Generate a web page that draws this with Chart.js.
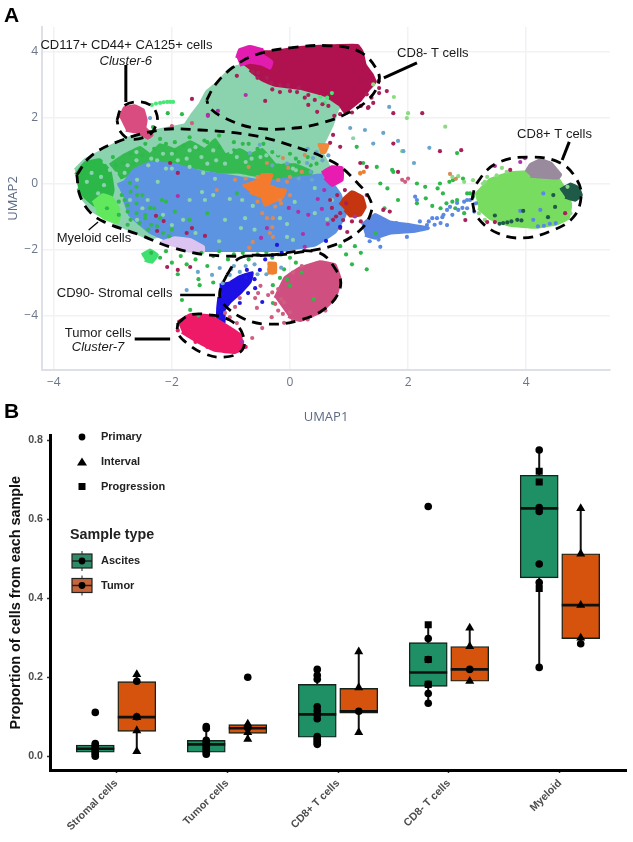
<!DOCTYPE html>
<html><head><meta charset="utf-8">
<style>
html,body{margin:0;padding:0;background:#fff;width:633px;height:842px;overflow:hidden}
canvas{position:absolute;left:0;filter:blur(.4px)}
#a{top:0}#b{top:425px}
.letter{position:absolute;font:bold 21px "Liberation Sans",Arial,sans-serif;color:#000;line-height:21px}
</style>
<script src="https://cdn.jsdelivr.net/npm/chart.js@4/dist/chart.umd.min.js"></script>
</head><body>
<canvas id="a" width="633" height="425"></canvas>
<canvas id="b" width="633" height="417"></canvas>
<div class="letter" style="left:4px;top:4px">A</div>
<div class="letter" style="left:4px;top:400px">B</div>
<script>
/* ---------- Panel A: UMAP clusters (dense areas as outlines, sparse cells as points) ---------- */
const mintArea=[[-3.64,.41],[-3.47,.71],[-3.31,.86],[-3.05,1.11],[-2.8,1.32],[-2.46,1.53],[-2.2,1.62],[-2.03,1.68],[-1.78,1.77],[-1.66,2.08],[-1.53,2.38],[-1.41,2.77],[-1.27,2.98],[-1.1,3.29],[-.98,3.5],[-.51,3.68],[.34,3.44],[.93,2.68],[.8,2.23],[.71,1.77],[.59,1.32],[.51,1.02],[.68,.41],[.17,-.2],[-2.37,-1.65],[-2.88,-1.26],[-3.31,-.86],[-3.56,-.35]];
const greenLeftArea=[[-3.63,.26],[-3.47,.62],[-3.22,.71],[-3.05,.35],[-3,-.2],[-3.08,-.65],[-3.31,-.65],[-3.47,-.41],[-3.59,-.14]];
const greenBandArea=[[-3.05,.56],[-2.8,.86],[-2.54,1.08],[-2.37,.86],[-2.2,1.17],[-1.95,1.02],[-1.69,1.26],[-1.44,1.02],[-1.27,1.32],[-1.1,.86],[-.85,1.02],[-.68,.86],[-.47,1.02],[-.25,.56],[.08,.56],[.37,.35],[.25,.11],[-.08,.11],[-.34,.17],[-.85,.35],[-1.19,.35],[-1.53,.47],[-1.86,.56],[-2.2,.41],[-2.54,.41],[-2.88,.17]];
const blueArea=[[-2.92,-.05],[-2.8,.05],[-2.63,.41],[-2.37,.62],[-1.95,.56],[-1.53,.35],[-.85,.17],[-.42,.05],[.17,.17],[.59,.26],[.85,-.35],[.93,-.95],[.76,-1.47],[.42,-1.86],[-.17,-2.02],[-.85,-2.02],[-1.44,-2.02],[-1.95,-1.8],[-2.37,-1.47],[-2.71,-.95],[-2.8,-.5]];
const limeArea=[[-3.34,-.59],[-3.17,-.35],[-3.02,-.44],[-2.88,-.86],[-2.92,-1.17],[-3.14,-1.05],[-3.27,-.86]];
const limeLowArea=[[-2.51,-2.17],[-2.37,-2.02],[-2.25,-2.17],[-2.34,-2.38],[-2.46,-2.32]];
const lavenderArea=[[-2.2,-1.8],[-1.95,-1.65],[-1.69,-1.71],[-1.47,-1.92],[-1.47,-2.08],[-1.78,-2.02]];
const orangeArea=[[-.8,-.08],[-.59,.05],[-.47,.26],[-.31,.26],[-.37,-.05],[-.17,-.2],[-.08,-.2],[-.14,-.44],[-.31,-.56],[-.42,-.65],[-.47,-.41],[-.68,-.26]];
const orangeTopArea=[[.47,1.17],[.64,1.17],[.59,.95],[.51,.95]];
const orangeLowArea=[[-.38,-2.42],[-.25,-2.42],[-.25,-2.7],[-.38,-2.7]];
const magentaMidArea=[[.54,.32],[.71,.5],[.88,.47],[.88,.11],[.71,-.05],[.59,.17]];
const redArea=[[.85,-.65],[.93,-.44],[1.05,-.26],[1.22,-.41],[1.27,-.71],[1.19,-.95],[1.02,-.98],[.93,-.8]];
const crimsonArea=[[-.85,3.68],[-.68,3.98],[-.34,3.98],[.17,4.11],[.85,4.17],[1.15,4.17],[1.22,3.98],[1.27,3.59],[1.39,3.29],[1.44,3.08],[1.32,2.83],[1.19,2.53],[1.02,2.29],[.93,2.17],[.85,2.38],[.59,2.68],[.17,2.89],[-.25,2.98],[-.47,3.14],[-.68,3.44]];
const magentaTopArea=[[-.9,3.8],[-.85,4.05],[-.68,4.14],[-.47,4.05],[-.47,3.89],[-.31,3.68],[-.34,3.5],[-.47,3.62],[-.68,3.68],[-.85,3.59]];
const cluster6Area=[[-2.88,1.98],[-2.8,2.29],[-2.63,2.35],[-2.49,2.23],[-2.44,1.92],[-2.46,1.68],[-2.34,1.47],[-2.41,1.38],[-2.58,1.56],[-2.78,1.62]];
const rosePinkArea=[[-.25,-3.47],[-.08,-2.86],[.17,-2.56],[.51,-2.38],[.76,-2.47],[.85,-2.92],[.76,-3.47],[.51,-3.89],[.17,-4.14],[-.03,-4.02]];
const stromalArea=[[-1.19,-3.08],[-1.02,-3.02],[-.85,-2.83],[-.64,-2.71],[-.68,-2.98],[-.85,-3.32],[-1.02,-3.59],[-1.12,-3.83],[-1.12,-4.2],[-1.22,-4.2],[-1.22,-3.77],[-1.2,-3.44]];
const tumorArea=[[-1.9,-4.2],[-1.69,-3.98],[-1.36,-4.02],[-1.1,-4.29],[-.85,-4.59],[-.8,-4.98],[-.93,-5.11],[-1.27,-5.05],[-1.61,-4.74],[-1.83,-4.5]];
const cd8GreenArea=[[3.14,-.35],[3.39,.11],[3.73,.32],[4.15,.35],[4.49,.23],[4.61,-.05],[4.71,-.35],[4.75,-.65],[4.71,-1.05],[4.49,-1.23],[4.15,-1.32],[3.73,-1.26],[3.39,-1.05],[3.19,-.74]];
const grayArea=[[4,.35],[4.07,.56],[4.24,.71],[4.41,.62],[4.58,.26],[4.54,.17],[4.07,.23]];
const darkGreenArea=[[4.58,-.2],[4.75,-.02],[4.88,-.14],[4.93,-.35],[4.83,-.5],[4.66,-.41]];
const blueTailArea=[[1.22,-1.26],[1.44,-.95],[1.69,-1.17],[2.03,-1.26],[2.34,-1.35],[2.12,-1.44],[1.69,-1.5],[1.44,-1.65],[1.27,-1.56]];

const mintDots=[[-2.24,.05],[-2.41,-.5],[-2.59,.11],[-2.8,.32],[-3.05,.41],[-3.14,.65],[-3.31,.86],[-3.44,.05],[-3.36,.32],[-2.92,-.2],[-2.71,-.5],[-2.59,-1.1],[-2,-1.26],[-1.81,-1.1],[-1.49,-.26],[-1.47,.32],[-2.1,.45],[-2.25,.7],[-.81,-.5],[-1.02,-.47],[-1.44,-.5],[-1.27,.14],[-1.3,-.35],[-.76,-1.05],[-.63,-.68],[-.17,-1.05],[-.05,-1.23],[-.05,-1.62],[-.83,-1.35],[.05,-1.71],[.42,-.9],[.63,-1.08],[.08,-.56],[.42,-.14],[.71,-.5],[-2.6,.7],[-2.4,.55],[-2,.9],[-1.75,.75],[-1.6,1.1],[-1.25,.7],[-1,.95],[-.75,.65],[-.5,.8],[-.2,.9],[.1,.4],[.3,.6],[-2.95,.3],[-3.2,.2],[-3.25,-.3],[-2.85,-.85],[-2.5,-.75],[-2.15,-.95],[-1.6,-1.5],[-1.2,-1.75],[-.6,-1.4],[-1.7,-.5],[-1.1,-1.1],[1.07,1.37],[-3.15,-.05],[-2.75,.55],[-2.6,.95],[-2.35,.75],[-2.15,.9],[-1.9,.7],[-1.7,1],[-1.5,.8],[-1.3,1],[-1.1,.6],[-.9,.8],[-.65,.75],[-.4,.85],[-.15,.65],[.05,.45],[-1.7,.5],[-2,.45],[-1.4,.6]];
const greenDots=[[-2.3,1.05],[-2.1,1.2],[-1.95,.95],[-1.8,1.15],[-1.55,1.05],[-1.4,1.25],[-1.2,1.1],[-.95,1],[-.8,1.2],[-.55,1.05],[-.3,.95],[0,.9],[.15,.65],[.3,.8],[.45,.6],[-2.7,.9],[-3.1,-.75],[-2.9,-.55],[-2.75,-.85],[-2.6,-.6],[-2.45,-.95],[-2.3,-.75],[-2.55,-1.2],[-2.35,-1.25],[-2.2,-1.05],[-2.7,-1.1],[-2.1,-.55],[-1.95,-.85],[-2,-1.4],[-1.7,-1.1],[-.9,-.3],[-1.4,-.9],[-2.71,.02],[-2.59,-.35],[-2.37,-.74],[-2.17,-.5],[-2.8,-.5],[-2.83,.62],[-3,.8],[-2.35,-2.1],[-2.2,-2.25],[-2.1,-2.05],[-2,-2.4],[-1.85,-2.2],[-1.75,-2.45],[-1.6,-2.3],[-1.5,-2.1],[-1.4,-2.5],[-1.3,-2.2],[-1.2,-2.05],[-1.05,-2.3],[-.95,-2.15],[-.8,-2.1],[-.7,-2.3],[-.55,-2.15],[-.4,-2.1],[-.3,-2.25],[-.15,-2.15],[0,-2.25],[.1,-2.4],[-1.9,-2.75],[-1.55,-2.9],[-1.3,-3],[-1.55,-4],[-.1,-2.6],[-.05,-2.9],[.2,-2.7],[0,-3.1],[.4,-3.5],[.85,-1.9],[.95,-2.15],[1.05,-2.45],[1.2,-2.1],[1.3,-2.6],[1.45,-1.5],[1.6,-.75],[1.75,.35],[1.13,1.11],[1.24,.62],[1.47,.5],[1.73,.41],[1.53,0],[1.83,-.5],[2.15,0],[2.29,-.1],[2.54,0],[2.41,-.68],[2.59,-.3],[2.76,.1],[2.93,.15],[2.83,-.5],[3,-.3],[2.8,-.75],[2.83,.92],[-1.69,-3.83],[-1.83,-3.53],[-1.53,-3.08],[-.29,-3.62],[-.17,-2.86],[-.29,-3.08],[-2.32,1.71],[-2.07,2.13],[-1.83,2.1],[2.15,-.6],[2.3,-.45],[1.1,-1.9],[1.65,-.15],[3.1,-.4],[3.05,-.3],[-2.95,.55],[-2.85,.2],[-2.75,.35],[-2.65,.6],[-2.5,.85],[-2.6,-.1],[-2.7,-.25],[-2.85,-.35],[-2.75,-.65],[-2.9,-.95],[-2.6,-.9],[-2.5,-.35],[-2.45,-1.05],[-2.25,-1.3],[-2.15,-1.5],[-2.05,-1.6],[-2.4,-1.4],[-2.75,-1.25],[-2.2,1.35],[-1.95,1.25],[-1.7,1.4],[-1.45,1.3],[-1.2,1.45],[-.95,1.25],[-.7,1.2],[-.45,1.2],[-.2,.85],[.1,.75],[.35,.55],[-2.45,1.2],[2.55,-.75],[2.65,-.6],[2.75,-.55],[2.95,-.9],[2.5,-.15],[2.7,.05]];
const lightGreenDots=[[1.98,1.98],[2,2.13],[2.63,1.72],[3.59,.47],[3.67,.35],[3.34,.2],[3.27,0],[3.1,.1],[2.95,.05],[1.76,2.62],[1.41,3],[1.9,.98],[2.75,.2],[2.85,.22],[3.2,-.9],[3.3,-1.1],[3.55,-1.2],[4.75,-.9],[4.7,-.1],[3.3,.05],[3.5,.25]];
const brightGreenDots=[[-2.34,2.38],[-2.27,2.42],[-2.2,2.44],[-2.14,2.46],[-2.08,2.47],[-2.03,2.47],[-1.98,2.47],[.51,2.62],[.59,2.44],[.71,2.74],[.63,2.6]];
const maroonDots=[[-2.27,-.98],[-2.14,-1.14],[-2.25,-1.44],[-1.9,.32],[-1.66,-1.35],[-1.75,-1.5],[-1.44,-1.59],[-2.03,.62],[.85,-1.35],[.97,-1.47],[.71,-.74],[.73,-1.1],[.9,-1.11],[.68,-.5],[.8,-.35],[.93,-.2],[1.19,.62],[1.3,.5],[.73,1.47],[.85,1.11],[.68,1.23],[-.63,3.38],[-.54,3.35],[-.31,3.05],[-.17,2.98],[-.03,2.98],[.12,2.77],[.31,2.68],[.42,2.53],[.31,2.38],[.46,2.17],[-.42,2.5],[-.9,3.26],[-.39,3.2],[-.17,2.77],[1.32,2.29],[1.41,2.44],[2.24,2.13],[1.75,2.13],[1.64,2.8],[1.51,2.89],[1.51,2.74],[1.33,2.31],[1.75,1.21],[2.54,.98],[2.9,1.01],[1.83,.35],[1.58,-.8],[1.69,-.85],[2.97,-1.11],[3.34,-1.17],[3.47,-1.17],[3.73,.41],[4.66,-.9],[-1.66,2.56],[-2.08,-2.53],[-1.9,-2.62],[-1.69,-2.53],[.15,2.9],[.65,2.35],[.75,2.05],[.95,-.6],[.85,-.9],[.78,-1],[1.2,-1.15],[1.05,-1.15],[1.3,-.35],[-.55,3.2],[-.3,2.85],[0,2.8],[.25,2.6],[.55,2.4],[.85,2.1],[1.05,2.15],[1.3,2.7],[1.5,3.1],[1.38,2.6],[1.2,2.35]];
const purpleDots=[[-1.9,-.38],[.14,-.86],[.22,-1.53],[.25,-1.92],[-.39,-1.35],[-.49,-1.65],[.54,-.77],[.58,-.2],[.31,-.95],[-.02,-.74],[.47,-.47],[.64,-1.23],[-.75,2.68],[-1.39,2.08],[-1.22,2.2],[-1.39,2.05],[3.98,.77],[3.9,.65],[3.47,.53],[-.81,-4.8],[1.1,-1]];
const salmonDots=[[-.47,-.9],[-.39,-1.05],[-.29,-1.05],[-.3,-1.32],[-.34,-1.5],[-.29,-1.62],[-.63,-1.77],[-.69,-1.95],[-.93,.11],[-1.24,-.2],[-.12,.77],[-.39,.62],[-.03,.47],[.25,.86],[-.17,-.5],[-.7,.5],[0,.2],[.2,.35],[1.19,.32],[2.71,.29],[2.81,.14],[-.75,.15],[-.55,.2],[-.2,.1],[-.05,.05],[-.25,-.7],[-.55,-.55],[-.15,-.6],[0,-.35]];
const roseDots=[[1.9,.11],[2,.15],[1.95,.05],[-.59,-3.47],[-.37,-3.38],[-.56,-3.77],[-.31,-4.05],[-.47,-4.38],[-.64,-4.68],[-1.02,-4.05],[-.93,-3.74],[-.85,-3.47],[-.9,-4.23],[-1.1,-3.92],[-.54,-3.32],[-2,1.74],[-1.66,1.83],[-.3,-3.3],[-.2,-3.85],[-.1,-4.22],[-.5,-3.1],[-.2,-3.2],[-.1,-3.6],[0,-3.9],[-.15,-3.5],[-.25,-3.65],[-.12,-3.95],[.05,-4.15],[.3,-4.12],[.6,-3.85],[.85,-3.1],[.2,-2.5],[.05,-2.7]];
const tumorFringeDots=[[-1.9,-4.45],[-1.75,-4.05],[-1.15,-4.25],[-.82,-4.85],[-.75,-4.95],[-1.6,-4.8],[-1.4,-4.95]];
const steelDots=[[-.68,.92],[-.51,1.17],[.29,.62],[.39,.77],[.37,.11],[1.58,1.53],[1.68,2.32],[1.02,1.68],[1.27,1.62],[1.41,1.21],[1.83,1.29],[1.92,.98],[2.36,1.08],[2.1,.62],[-1.75,-3.23],[-1.56,-2.68],[-1.32,-2.77],[-1.19,-2.56],[-1.02,-2.77],[-.85,-2.68],[-1.14,-3.02],[-2.37,1.98],[-.95,-2.5],[-.6,-2.45],[-.3,.55],[-.05,.6],[.15,.15],[.35,.35],[.55,.7],[.45,.95],[.3,1.05],[.65,.85],[-1,-2.6],[-.75,-2.5],[-.55,-2.75],[-.4,-2.75],[-.15,-2.55]];
const tailBlueDots=[[2.49,-1.05],[2.58,-1.02],[2.66,-.8],[2.71,-.71],[2.83,-.59],[2.92,-.74],[3,-.5],[2.32,-1.26],[2.41,-1.05],[2.66,-1.26],[2.15,-.5],[2.12,-.4],[1.98,-1.62],[1.53,-1.92],[4.2,-1.3],[4.3,-1.28],[4.4,-1.22],[4.5,-1.2],[4.29,-.3],[4.24,-.8],[4.12,-1.1],[3.9,-.83],[3.15,-.6],[3.12,-.85],[3.05,-.5],[2.55,-1.2],[2.75,-.95],[1.35,-1.75],[1.5,-1.7],[1.3,-1.2],[1.6,-1.1],[1.8,-1.2],[2.2,-1.15],[2.35,-1.15],[2.45,-1.25],[2.6,-.95],[2.85,-.8],[2.95,-.55],[3,-.75]];
const deepBlueDots=[[.85,-1.31],[.61,-1.74],[-.22,-1.86],[-.14,-2.1],[-.3,-2.17],[-.73,-2.62],[-.51,-2.62],[-.59,-3.17],[-.71,-3.32],[-.47,-3.59],[-.85,-3.62],[-1.19,-3.74],[-.6,-2.9],[-.75,-2.85],[-.42,-2.3],[-1.19,-4.05]];
const darkGreenDots=[[3.61,-1.2],[3.68,-1.18],[3.75,-1.15],[3.85,-1.1],[3.47,-.97],[3.95,-.83],[4.49,-.71],[4.46,-.35],[4.37,-1.02],[3.55,-1.22],[3.92,-1.12]];
const orangeDots=[[-.32,-2.45],[-.35,-2.6],[-.3,-2.7],[1.19,.3],[1.25,.35]];

const axisXTicks=[-4,-2,0,2,4], axisYTicks=[-4,-2,0,2,4];
const outlineCD8Neg=[[-1.41,2.53],[-1.27,2.98],[-.98,3.5],[-.59,3.89],[0,4.11],[.68,4.17],[1.19,3.98],[1.49,3.38],[1.49,2.98],[1.32,2.53],[1.02,2.17],[.59,1.86],[.08,1.68],[-.59,1.68],[-1.1,1.98],[-1.36,2.29],[-1.41,2.53]];
const outlineCluster6=[[-2.93,1.92],[-2.85,2.29],[-2.63,2.47],[-2.37,2.38],[-2.25,2.05],[-2.29,1.68],[-2.41,1.44],[-2.71,1.35],[-2.88,1.59],[-2.93,1.92]];
const outlineMyeloid=[[-3.61,.26],[-3.39,.8],[-2.97,1.23],[-2.2,1.62],[-1.53,1.62],[-.68,1.47],[-.12,1.23],[.73,.65],[1.14,.02],[1.36,-.5],[1.37,-.89],[1.19,-1.41],[.76,-1.86],[.17,-2.08],[-.29,-2.17],[-1.36,-2.17],[-2.03,-1.92],[-2.54,-1.56],[-3.14,-1.17],[-3.39,-.86],[-3.56,-.35],[-3.61,.26]];
const outlineCD90=[[-1.07,-2.77],[-.85,-2.26],[-.34,-2.17],[.46,-2.08],[.8,-2.68],[.85,-3.17],[.63,-3.74],[.17,-4.14],[-.39,-4.26],[-.8,-4.08],[-1.14,-3.62],[-1.19,-3.29],[-1.07,-2.77]];
const outlineTumor=[[-1.9,-4.23],[-1.69,-3.98],[-1.36,-3.98],[-1.02,-4.14],[-.81,-4.53],[-.81,-5.05],[-1.14,-5.26],[-1.47,-5.14],[-1.75,-4.83],[-1.9,-4.53],[-1.9,-4.23]];
const outlineCD8Pos=[[3.08,-.5],[3.17,.02],[3.51,.62],[4.07,.8],[4.58,.62],[4.86,.11],[4.93,-.41],[4.8,-1.02],[4.46,-1.41],[3.95,-1.65],[3.51,-1.5],[3.17,-1.02],[3.08,-.5]];
const pointers=[[[-2.78,3.59],[-2.78,2.47],3],[[2.15,3.65],[1.59,3.2],3],[[4.73,1.26],[4.61,.71],3],[[-3.25,-1.17],[-3.41,-1.41],1.3],[[-1.86,-3.38],[-1.27,-3.38],2.6],[[-2.63,-4.71],[-2.03,-4.71],3]];
const noteTexts=["CD117+ CD44+ CA125+ cells","Cluster-6","CD8- T cells","CD8+ T cells","Myeloid cells","CD90- Stromal cells","Tumor cells","Cluster-7"];
const noteX=[-2.77,-2.78,2.42,4.48,-3.32,-2.97,-3.25,-3.25];
const noteY=[4.17,3.71,3.95,1.5,-1.65,-3.32,-4.53,-4.95];
const noteItalic=[0,1,0,0,0,0,0,1];

/* ---------- Panel B: boxplots ---------- */
const categories=["Stromal cells","Tumor cells","CD8+ T cells","CD8- T cells","Myeloid"];
const ascQ1=[.01,.01,.048,.177,.452], ascMedian=[.019,.03,.106,.212,.628], ascQ3=[.028,.04,.182,.288,.712], ascLow=[0,.005,.03,.134,.225], ascHigh=[.032,.075,.22,.333,.776];
const tumQ1=[.063,.058,.109,.19,.298], tumMedian=[.099,.071,.114,.22,.383], tumQ3=[.189,.08,.172,.278,.513], tumLow=[.012,.043,.06,.19,.285], tumHigh=[.207,.082,.265,.325,.628];
const ascPrimary=[[0,.111],[0,.032],[0,.028],[0,.024],[0,.02],[0,.016],[0,.012],[0,.008],[0,.004],[0,0],[1,.075],[1,.07],[1,.04],[1,.035],[1,.03],[1,.025],[1,.02],[1,.015],[1,.01],[1,.005],[2,.22],[2,.205],[2,.195],[2,.125],[2,.115],[2,.105],[2,.095],[2,.05],[2,.045],[2,.04],[2,.035],[2,.03],[3,.633],[3,.298],[3,.245],[3,.182],[3,.159],[3,.134],[4,.776],[4,.63],[4,.62],[4,.487],[4,.44],[4,.225]];
const ascProgression=[[3,.333],[3,.245],[3,.182],[4,.722],[4,.695],[4,.425]];
const tumPrimary=[[0,.19],[0,.1],[1,.2],[1,.072],[2,.114],[3,.22],[4,.285]];
const tumInterval=[[0,.207],[0,.098],[0,.065],[0,.012],[1,.082],[1,.06],[1,.043],[2,.265],[2,.174],[2,.06],[3,.325],[3,.278],[3,.19],[4,.628],[4,.513],[4,.383],[4,.3]];
const legendShapes=["Primary","Interval","Progression"];
const legendFills=["Ascites","Tumor"];

const ff='"Liberation Sans",Arial,sans-serif';
const pts=a=>a.map(([x,y])=>({x,y}));
const area=(d,c)=>({type:'scatter',data:pts(d),showLine:true,fill:'shape',backgroundColor:c,borderColor:c,borderWidth:3.5,pointRadius:0,tension:.08});
const dots=(d,c,r)=>({type:'scatter',data:pts(d),showLine:false,backgroundColor:c,pointBackgroundColor:c,pointRadius:r||2.1,pointBorderWidth:0});
const dashed=d=>({type:'scatter',data:pts(d),showLine:true,borderColor:'#000',borderWidth:2.8,borderDash:[10,7],pointRadius:0,tension:.4,fill:false});
const pointerSet=p=>({type:'scatter',data:pts([p[0],p[1]]),showLine:true,borderColor:'#000',borderWidth:p[2],pointRadius:0,fill:false});

const layersA=[
 area(mintArea,'#8bd2ae'),area(greenBandArea,'#35ba52'),area(greenLeftArea,'#2cb848'),area(blueArea,'#5c94e2'),
 area(limeArea,'#62e85c'),area(limeLowArea,'#3fe070'),area(lavenderArea,'#dcc4f0'),area(orangeArea,'#f47b2e'),area(orangeTopArea,'#f08a3a'),area(orangeLowArea,'#ee8030'),
 area(crimsonArea,'#b0124f'),area(magentaTopArea,'#e21cae'),area(magentaMidArea,'#e81cb0'),area(redArea,'#c43510'),
 area(cluster6Area,'#d94c80'),area(rosePinkArea,'#cf4f80'),area(stromalArea,'#1c10e4'),area(tumorArea,'#ee1a68'),
 area(cd8GreenArea,'#78dc60'),area(grayArea,'#9a8a9e'),area(darkGreenArea,'#1f5a48'),area(blueTailArea,'#5a88e2'),
 dots(greenDots,'#2fb84b'),dots(mintDots,'#8bd2ae'),dots(lightGreenDots,'#8bdc80'),dots(brightGreenDots,'#48e878'),dots(steelDots,'#6aa6cc'),dots(tailBlueDots,'#5a88e2'),
 dots(salmonDots,'#d98a5a'),dots(orangeDots,'#ee8030'),dots(roseDots,'#cf5f80'),dots(tumorFringeDots,'#ee1a68'),dots(maroonDots,'#a8205a'),dots(purpleDots,'#b030a8'),dots(deepBlueDots,'#2018e0'),dots(darkGreenDots,'#1f5a48'),
 dashed(outlineCD8Neg),dashed(outlineCluster6),dashed(outlineMyeloid),dashed(outlineCD90),dashed(outlineTumor),dashed(outlineCD8Pos),
 ...pointers.map(pointerSet)
].reverse();

const notesPlugin={id:'notes',afterDatasetsDraw(c){
  const g=c.ctx;g.save();g.fillStyle='#1a1a1a';g.textAlign='center';g.textBaseline='middle';
  noteTexts.forEach((t,i)=>{g.font=(noteItalic[i]?'italic ':'')+'13px '+ff;
    g.fillText(t,c.scales.x.getPixelForValue(noteX[i]),c.scales.y.getPixelForValue(noteY[i]));});
  g.restore();}};

new Chart(document.getElementById('a'),{type:'scatter',data:{datasets:layersA},plugins:[notesPlugin],options:{
  responsive:false,animation:false,events:[],layout:{padding:{top:27,right:23,left:0,bottom:0}},
  plugins:{legend:{display:false},tooltip:{enabled:false}},
  scales:{
   x:{type:'linear',min:-4.2,max:5.42,afterFit(s){s.height=55},afterBuildTicks(s){s.ticks=axisXTicks.map(v=>({value:v}))},
      grid:{color:'#f1f2f5',lineWidth:1.5,drawTicks:false},border:{color:'#dde0e6',width:2},
      ticks:{padding:5,font:{family:'"Open Sans"',size:12},color:'#6a7589',callback:v=>v<0?'\u2212'+Math.abs(v):''+v},
      title:{display:true,text:'UMAP1',font:{family:'"Open Sans"',size:13},color:'#5c6b86',padding:{top:0,bottom:0}}},
   y:{type:'linear',min:-5.65,max:4.74,afterFit(s){s.width=42},afterBuildTicks(s){s.ticks=axisYTicks.map(v=>({value:v}))},
      grid:{color:'#f1f2f5',lineWidth:1.5,drawTicks:false},border:{color:'#dde0e6',width:2},
      ticks:{padding:4,font:{family:'"Open Sans"',size:12},color:'#6a7589',callback:v=>v<0?'\u2212'+Math.abs(v):''+v},
      title:{display:true,text:'UMAP2',font:{family:'"Open Sans"',size:13},color:'#5c6b86',padding:{top:5,bottom:0}}}
  }}});

/* Panel B datasets */
const off=.187, boxW=38;
const seg=(x0,y0,x1,y1,w)=>({type:'scatter',data:[{x:x0,y:y0},{x:x1,y:y1}],showLine:true,borderColor:'#111',borderWidth:w,pointRadius:0,fill:false});
const marks=(arr,o,style,r)=>({type:'scatter',data:arr.map(([i,v])=>({x:i+o,y:v})),showLine:false,pointStyle:style,pointRadius:r,pointBackgroundColor:'#000',pointBorderColor:'#000',pointBorderWidth:0});
const boxes=(q1,q3,o,c,label)=>({type:'bar',label,grouped:false,barPercentage:1,categoryPercentage:1,maxBarThickness:boxW,data:q1.map((a,i)=>({x:i+o,y:[a,q3[i]]})),backgroundColor:c,borderColor:'#14231c',borderWidth:1.4,borderSkipped:false});
const layersB=[];
categories.forEach((_,i)=>{layersB.push(seg(i-off,ascLow[i],i-off,ascHigh[i],2));layersB.push(seg(i+off,tumLow[i],i+off,tumHigh[i],2));});
layersB.push(boxes(ascQ1,ascQ3,-off,'#1f8f66','Ascites'),boxes(tumQ1,tumQ3,off,'#d6530d','Tumor'));
categories.forEach((_,i)=>{layersB.push(seg(i-off-.171,ascMedian[i],i-off+.171,ascMedian[i],2.6));layersB.push(seg(i+off-.171,tumMedian[i],i+off+.171,tumMedian[i],2.6));});
layersB.push(marks(ascPrimary,-off,'circle',3.8),marks(ascProgression,-off,'rect',5),marks(tumPrimary,off,'circle',3.8),marks(tumInterval,off,'triangle',5.2));

const legendPlugin={id:'legendB',afterDatasetsDraw(c){
  const g=c.ctx;g.save();g.textBaseline='middle';g.textAlign='left';g.font='bold 11px '+ff;
  const ys=[12,37,61.5];
  legendShapes.forEach((t,i)=>{g.fillStyle='#000';g.beginPath();const y=ys[i];
    if(i==0)g.arc(82,y,3.4,0,7);
    if(i==1){g.moveTo(82,y-4.5);g.lineTo(87,y+3.5);g.lineTo(77,y+3.5);g.closePath();}
    if(i==2)g.rect(78.5,y-3.5,7,7);
    g.fill();g.fillStyle='#222';g.fillText(t,101,y);});
  g.fillStyle='#222';g.font='bold 14.3px '+ff;g.fillText('Sample type',70,110);
  g.font='bold 11px '+ff;
  legendFills.forEach((t,i)=>{const y=136+i*24.5;
    g.strokeStyle='#222';g.lineWidth=1;g.beginPath();g.moveTo(82,y-10);g.lineTo(82,y+10);g.stroke();
    g.fillStyle=i?'#c8643a':'#2f8a68';g.fillRect(72,y-7,20,14);g.lineWidth=1.2;g.strokeRect(72,y-7,20,14);
    g.beginPath();g.moveTo(72,y);g.lineTo(92,y);g.lineWidth=1.5;g.stroke();
    g.fillStyle='#000';g.beginPath();g.arc(82,y,3.4,0,7);g.fill();
    g.fillStyle='#222';g.fillText(t,101,y);});
  g.restore();}};

new Chart(document.getElementById('b'),{type:'bar',data:{datasets:layersB.reverse()},plugins:[legendPlugin],options:{
  responsive:false,animation:false,events:[],layout:{padding:{top:9,right:7,left:0,bottom:0}},
  plugins:{legend:{display:false},tooltip:{enabled:false}},
  scales:{
   x:{type:'linear',min:-.595,max:4.595,offset:false,afterFit(s){s.height=72},afterBuildTicks(s){s.ticks=categories.map((_,i)=>({value:i}))},
      grid:{offset:false,drawOnChartArea:false,drawTicks:true,tickLength:3,tickColor:'#333',tickWidth:1.5},border:{color:'#000',width:3},
      ticks:{maxRotation:45,minRotation:45,autoSkip:false,padding:4,font:{family:ff,size:10.7,weight:'bold'},color:'#4d4d4d',callback:v=>categories[v]}},
   y:{type:'linear',min:-.035,max:.813,afterFit(s){s.width=50},afterBuildTicks(s){s.ticks=[0,.2,.4,.6,.8].map(v=>({value:v}))},
      grid:{offset:false,drawOnChartArea:false,drawTicks:true,tickLength:3,tickColor:'#333',tickWidth:1.5},border:{color:'#000',width:3},
      ticks:{padding:4,font:{family:ff,size:10.7,weight:'bold'},color:'#4d4d4d',callback:v=>v.toFixed(1)},
      title:{display:true,text:'Proportion of cells from each sample',font:{family:ff,size:14.4,weight:'bold'},color:'#111',padding:{top:7,bottom:0}}}
  }}});
</script>
</body></html>
